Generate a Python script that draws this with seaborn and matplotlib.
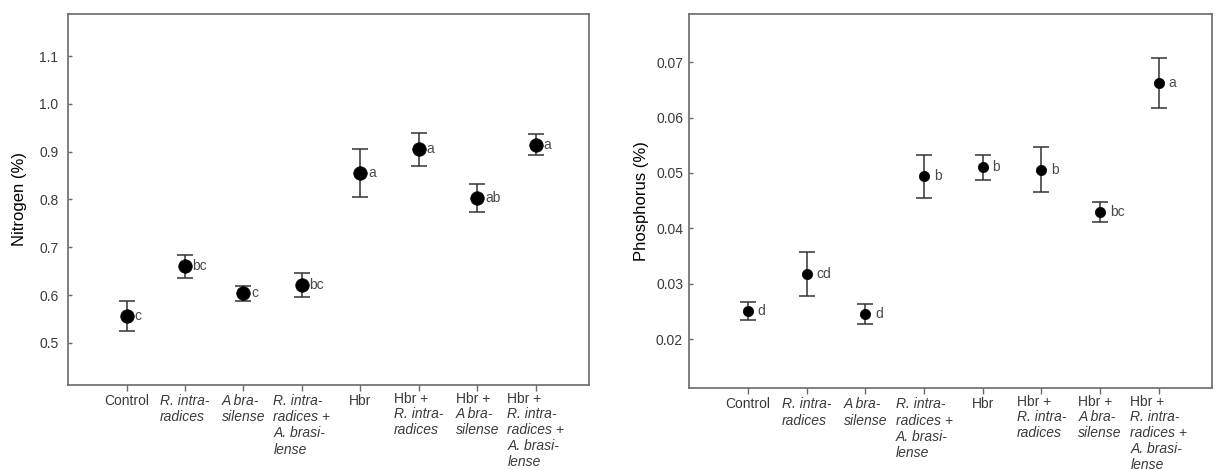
import numpy as np
import pandas as pd
import matplotlib
matplotlib.use("Agg")
import matplotlib.pyplot as plt
import matplotlib.transforms as mtransforms
import seaborn as sns

# Du lieu doc tu hinh goc
treatments = ["Control", "R. intraradices", "A. brasilense", "R. intraradices + A. brasilense",
              "Hbr", "Hbr + R. intraradices", "Hbr + A. brasilense",
              "Hbr + R. intraradices + A. brasilense"]

# nhan truc x: (dong chu thuong, cac dong in nghieng)
label_plain = ["Control", None, None, None, "Hbr", "Hbr +", "Hbr +", "Hbr +"]
label_italic = [None,
                "R. intra-\nradices",
                "A bra-\nsilense",
                "R. intra-\nradices +\nA. brasi-\nlense",
                None,
                "R. intra-\nradices",
                "A bra-\nsilense",
                "R. intra-\nradices +\nA. brasi-\nlense"]

nitrogen_mean = [0.556, 0.660, 0.604, 0.621, 0.855, 0.905, 0.803, 0.915]
nitrogen_err = [0.031, 0.024, 0.016, 0.026, 0.050, 0.035, 0.030, 0.022]
nitrogen_letters = ["c", "bc", "c", "bc", "a", "a", "ab", "a"]
nitrogen_ticks = [0.5, 0.6, 0.7, 0.8, 0.9, 1.0, 1.1]

phosphorus_mean = [0.0250, 0.0318, 0.0246, 0.0494, 0.0510, 0.0506, 0.0429, 0.0662]
phosphorus_err = [0.0016, 0.0040, 0.0018, 0.0039, 0.0022, 0.0041, 0.0018, 0.0045]
phosphorus_letters = ["d", "cd", "d", "b", "b", "b", "bc", "a"]
phosphorus_ticks = [0.02, 0.03, 0.04, 0.05, 0.06, 0.07]

sns.set_style("ticks")
plt.rcParams['font.family'] = ['Liberation Sans', 'DejaVu Sans']

TEXT_COL = "#3a3a3a"
SPINE_COL = "#6a6a6a"


def ve_panel(ax, mean, err, letters, ticks, fmt, ylim, ylabel, msize, letter_dx, tick_pad, labelpad):
    df = pd.DataFrame({"pos": np.arange(len(treatments)), "mean": mean, "err": err})
    ax.errorbar(df["pos"], df["mean"], yerr=df["err"], fmt="none", ecolor="#333333",
                elinewidth=1.1, capsize=5.5, capthick=1.1, zorder=2)
    sns.scatterplot(data=df, x="pos", y="mean", s=msize, color="black", edgecolor="black",
                    linewidth=0.5, zorder=3, ax=ax, legend=False)
    for i, (m, lt) in enumerate(zip(mean, letters)):
        ax.annotate(lt, xy=(i, m), xytext=(letter_dx, 0), textcoords="offset points",
                    ha="left", va="center", fontsize=10, color="#4a4a4a")

    ax.set_xlim(-1, 7.9)
    ax.set_ylim(*ylim)
    ax.set_yticks(ticks)
    ax.set_yticklabels([fmt.format(t) for t in ticks])
    ax.set_xticks(range(len(treatments)))
    ax.set_xticklabels([])
    ax.tick_params(axis="y", direction="in", length=3, width=1, color=SPINE_COL,
                   labelsize=10, labelcolor=TEXT_COL, pad=tick_pad)
    ax.tick_params(axis="x", direction="out", length=4, width=1, color=SPINE_COL)
    for sp in ax.spines.values():
        sp.set_visible(True)
        sp.set_color(SPINE_COL)
        sp.set_linewidth(1.2)
    ax.set_xlabel("")
    ax.set_ylabel(ylabel, fontsize=12, color="black", labelpad=labelpad)

    # nhan truc x co phan in nghieng
    trans = mtransforms.blended_transform_factory(ax.transData, ax.transAxes)
    for i in range(len(treatments)):
        plain = label_plain[i]
        ital = label_italic[i]
        if ital is None:
            ax.annotate(plain, xy=(i, 0), xycoords=trans, xytext=(0, -6.5),
                        textcoords="offset points", ha="center", va="top",
                        fontsize=10, color=TEXT_COL)
            continue
        top_off = -6.5 if plain is None else -15.5
        it = ax.annotate(ital, xy=(i, 0), xycoords=trans, xytext=(0, top_off),
                         textcoords="offset points", ha="center", va="top",
                         multialignment="left", fontsize=10, style="italic",
                         color=TEXT_COL, linespacing=1.2)
        if plain is not None:
            ax.annotate(plain, xy=(0, 1), xycoords=it, xytext=(0, 0.5),
                        textcoords="offset points", ha="left", va="bottom",
                        fontsize=10, color=TEXT_COL)


fig = plt.figure(figsize=(12.17, 4.70), dpi=100)
ax1 = fig.add_axes([0.0559, 0.1809, 0.4277, 0.7893])
ax2 = fig.add_axes([0.5664, 0.1738, 0.4292, 0.7964])

ve_panel(ax1, nitrogen_mean, nitrogen_err, nitrogen_letters, nitrogen_ticks, "{:.1f}",
         (0.412, 1.188), "Nitrogen (%)", msize=95, letter_dx=5.5, tick_pad=7, labelpad=9)
ve_panel(ax2, phosphorus_mean, phosphorus_err, phosphorus_letters, phosphorus_ticks, "{:.2f}",
         (0.0111, 0.0787), "Phosphorus (%)", msize=55, letter_dx=7, tick_pad=4.5, labelpad=5)

fig.savefig("out.png", dpi=100, facecolor="white")
plt.close(fig)
